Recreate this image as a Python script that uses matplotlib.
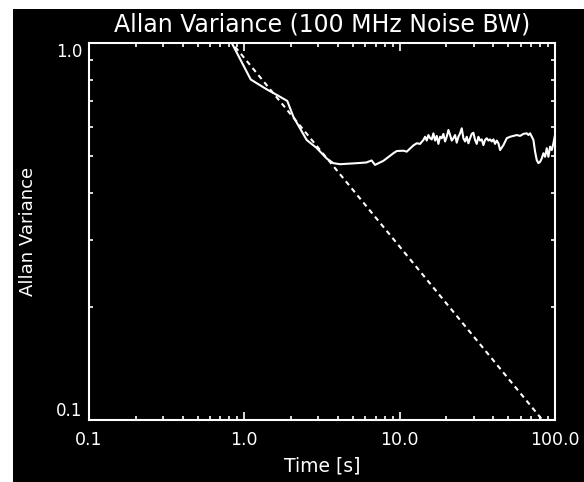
import numpy as np
import matplotlib
matplotlib.use("Agg")
import matplotlib.pyplot as plt
from matplotlib.ticker import LogLocator, NullFormatter
from matplotlib.patches import Rectangle

time_s = [0.80, 0.83, 1.10, 1.39, 1.62, 1.89, 2.07, 2.52, 2.93, 3.39, 3.74, 4.13,
          5.30, 6.10, 6.60, 6.94, 7.86, 9.11, 9.58, 10.56, 11.11, 11.67, 12.26, 12.88,
          13.53, 14.21, 14.58, 14.94, 15.31, 15.70, 16.09, 16.49, 16.90, 17.33, 17.76,
          18.20, 18.66, 19.12, 19.60, 20.09, 20.60, 21.11, 21.64, 22.18, 22.74, 23.30,
          23.89, 24.48, 25.10, 25.72, 26.37, 27.03, 27.71, 28.40, 29.11, 29.83, 30.58,
          31.35, 32.13, 32.93, 33.76, 34.60, 35.46, 36.35, 37.26, 38.19, 39.15, 40.13,
          41.13, 42.17, 43.22, 44.32, 46.56, 48.92, 51.38, 54.00, 56.74, 59.61, 62.62,
          65.79, 67.44, 69.11, 72.62, 74.44, 76.30, 78.21, 80.17, 82.17, 84.21, 86.34,
          88.50, 90.70, 92.98, 95.30, 97.68, 100.0]
allan = [1.03, 1.00, 0.80, 0.754, 0.728, 0.702, 0.637, 0.553, 0.526, 0.494, 0.480, 0.477,
         0.480, 0.482, 0.488, 0.475, 0.487, 0.510, 0.517, 0.518, 0.515, 0.525, 0.535, 0.542,
         0.540, 0.553, 0.564, 0.551, 0.570, 0.559, 0.555, 0.576, 0.551, 0.567, 0.540,
         0.564, 0.559, 0.574, 0.548, 0.564, 0.588, 0.570, 0.551, 0.559, 0.570, 0.544,
         0.564, 0.576, 0.594, 0.559, 0.548, 0.564, 0.542, 0.559, 0.574, 0.578, 0.553,
         0.540, 0.564, 0.551, 0.555, 0.536, 0.553, 0.559, 0.551, 0.555, 0.548, 0.555,
         0.540, 0.551, 0.542, 0.520, 0.536, 0.559, 0.564, 0.567, 0.570, 0.567, 0.574,
         0.576, 0.570, 0.576, 0.553, 0.515, 0.489, 0.480, 0.484, 0.494, 0.510, 0.499,
         0.526, 0.499, 0.531, 0.520, 0.542, 0.570]

# ideal 1/sqrt(t) line
ideal_time = [0.80, 83.0]
ideal_allan = [1.02, 0.10]

x_ticks = [0.1, 1.0, 10.0, 100.0]
x_tick_labels = ["0.1", "1.0", "10.0", "100.0"]
y_ticks = [0.1, 1.0]
y_tick_labels = ["0.1", "1.0"]

fig = plt.figure(figsize=(5.84, 4.82), dpi=100, facecolor="white")
fig.add_artist(Rectangle((13 / 584, 0), 1, 473 / 482, transform=fig.transFigure,
                         facecolor="black", edgecolor="none", zorder=-10))
ax = fig.add_axes([89 / 584, 62 / 482, 466 / 584, 377 / 482], facecolor="black")

ax.plot(time_s, allan, color="white", lw=1.5)
ax.plot(ideal_time, ideal_allan, color="white", lw=1.5, dashes=(2.4, 2.0))

ax.set_xscale("log")
ax.set_yscale("log")
ax.set_xlim(0.1, 100)
ax.set_ylim(0.1, 1.0)

ax.set_xticks(x_ticks, labels=x_tick_labels)
ax.set_yticks(y_ticks, labels=y_tick_labels)
for axis in (ax.xaxis, ax.yaxis):
    axis.set_minor_locator(LogLocator(base=10, subs=np.arange(2, 10)))
    axis.set_minor_formatter(NullFormatter())

ax.tick_params(which="both", direction="in", top=True, right=True,
               colors="white", width=1.2)
ax.tick_params(which="major", length=6)
ax.tick_params(which="minor", length=3)
ax.tick_params(axis="x", labelsize=12.5, pad=8)
ax.tick_params(axis="y", labelsize=12, pad=5)
ylabs = ax.get_yticklabels()
ylabs[0].set_verticalalignment("bottom")
ylabs[1].set_verticalalignment("top")

for s in ax.spines.values():
    s.set_color("white")
    s.set_linewidth(1.5)

ax.set_title("Allan Variance (100 MHz Noise BW)", color="white", fontsize=17, pad=8.6)
ax.set_xlabel("Time [s]", color="white", fontsize=13.5)
ax.set_ylabel("Allan Variance", color="white", fontsize=13)
ax.xaxis.set_label_coords(0.5, -0.098)
ax.yaxis.set_label_coords(-0.112, 0.5)

fig.savefig("out.png", dpi=100, facecolor=fig.get_facecolor())
